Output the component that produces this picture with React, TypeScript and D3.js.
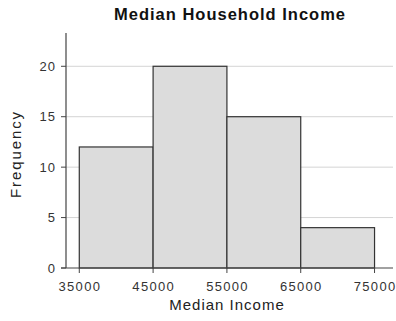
import React from "react";
import * as d3 from "d3";

const binStarts = [35000, 45000, 55000, 65000];
const binWidth = 10000;
const frequencies = [12, 20, 15, 4];
const yTicks = [0, 5, 10, 15, 20];
const xTicks = [35000, 45000, 55000, 65000, 75000];
const title = "Median Household Income";
const xLabel = "Median Income";
const yLabel = "Frequency";

export default function App() {
  const W = 396, H = 321;
  const left = 66, right = 393, top = 33, bottom = 268;
  const x = d3.scaleLinear().domain([33200, 77500]).range([left, right]);
  const y = d3.scaleLinear().domain([0, 23.3]).range([bottom, top]);
  const font = "'Liberation Sans', Arial, sans-serif";
  return (
    <svg width={W} height={H} style={{ position: "absolute", left: 0, top: 0 }} fontFamily={font}>
      <rect width={W} height={H} fill="#fff" />
      <text x={230} y={20} textAnchor="middle" fontSize={16.5} fontWeight="bold" fill="#111" letterSpacing={1}>{title}</text>
      {yTicks.filter(t => t > 0).map(t => (
        <line key={"g" + t} x1={left} x2={right} y1={y(t)} y2={y(t)} stroke="#d4d4d4" strokeWidth={1} />
      ))}
      {frequencies.map((f, i) => (
        <rect key={i} x={x(binStarts[i])} y={y(f)} width={x(binStarts[i] + binWidth) - x(binStarts[i])}
          height={y(0) - y(f)} fill="#dcdcdc" stroke="#333" strokeWidth={1.2} />
      ))}
      <line x1={left} x2={left} y1={top} y2={bottom} stroke="#444" strokeWidth={1.2} />
      <line x1={left - 5} x2={right} y1={bottom} y2={bottom} stroke="#444" strokeWidth={1.2} />
      {yTicks.map(t => (
        <g key={"y" + t}>
          <line x1={left - 5} x2={left} y1={y(t)} y2={y(t)} stroke="#444" />
          <text x={left - 10} y={y(t)} dy="0.36em" textAnchor="end" fontSize={13} fill="#333" letterSpacing={1}>{t}</text>
        </g>
      ))}
      {xTicks.map(t => (
        <g key={"x" + t}>
          <line x1={x(t)} x2={x(t)} y1={bottom} y2={bottom + 5} stroke="#444" />
          <text x={x(t) + 0.6} y={bottom + 23} textAnchor="middle" fontSize={13} fill="#333" letterSpacing={1.3}>{t}</text>
        </g>
      ))}
      <text x={227} y={310} textAnchor="middle" fontSize={15} fill="#222" letterSpacing={1}>{xLabel}</text>
      <text transform={`translate(21,154) rotate(-90)`} textAnchor="middle" fontSize={15} fill="#222" letterSpacing={1.9}>{yLabel}</text>
    </svg>
  );
}
